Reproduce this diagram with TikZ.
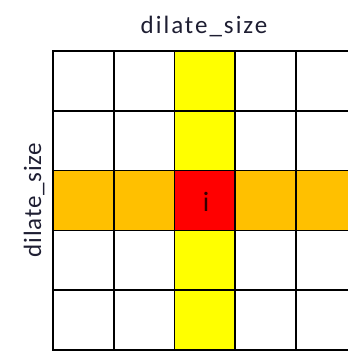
\documentclass[tikz,border=0pt]{standalone}
\usepackage{fontspec}
\setmainfont{Carlito}
\newfontfamily\etiqfont[LetterSpace=8]{Carlito}
\newfontfamily\ladofont[LetterSpace=3]{Carlito}
\definecolor{amarillo}{RGB}{255,255,0}
\definecolor{naranja}{RGB}{255,192,0}
\definecolor{rojo}{RGB}{255,0,0}
\definecolor{tinta}{RGB}{30,30,50}
\usetikzlibrary{positioning}

\begin{document}
\begin{tikzpicture}[
    x=1pt, y=-1pt,
    rejilla/.style={line width=1.6pt, black},
    borde/.style={line width=2.8pt, black},
    etiqueta/.style={font=\etiqfont\fontsize{25}{29}\selectfont, text=tinta,
      inner sep=0pt, anchor=base}
  ]
    \useasboundingbox (0,0) rectangle (348,351);
    \clip (0,0) rectangle (348,351);

    % fila y columna de la celda i
    \fill[naranja] (53,170.6) rectangle (356.75,230.4);
    \fill[amarillo] (174.5,51) rectangle (235.25,350);
    \fill[rojo] (174.5,170.6) rectangle (235.25,230.4);

    % rejilla 5x5
    \foreach \k in {1,...,4} {
      \draw[rejilla] (53+\k*60.75,51) -- (53+\k*60.75,350);
      \draw[rejilla] (53,51+\k*59.8) -- (356.75,51+\k*59.8);
    }
    \draw[borde] (53,51) rectangle (356.75,350);

    \node[etiqueta] (arriba) at (204,33) {dilate\_size};
    \node[etiqueta, rotate=90, font=\ladofont\fontsize{25}{29}\selectfont]
      (lado) at (41,200) {dilate\_size};
    \node[font=\fontsize{28}{32}\selectfont, text=black!80!rojo, inner sep=0pt,
      anchor=base] (centro) at (206,211) {i};
\end{tikzpicture}
\end{document}
